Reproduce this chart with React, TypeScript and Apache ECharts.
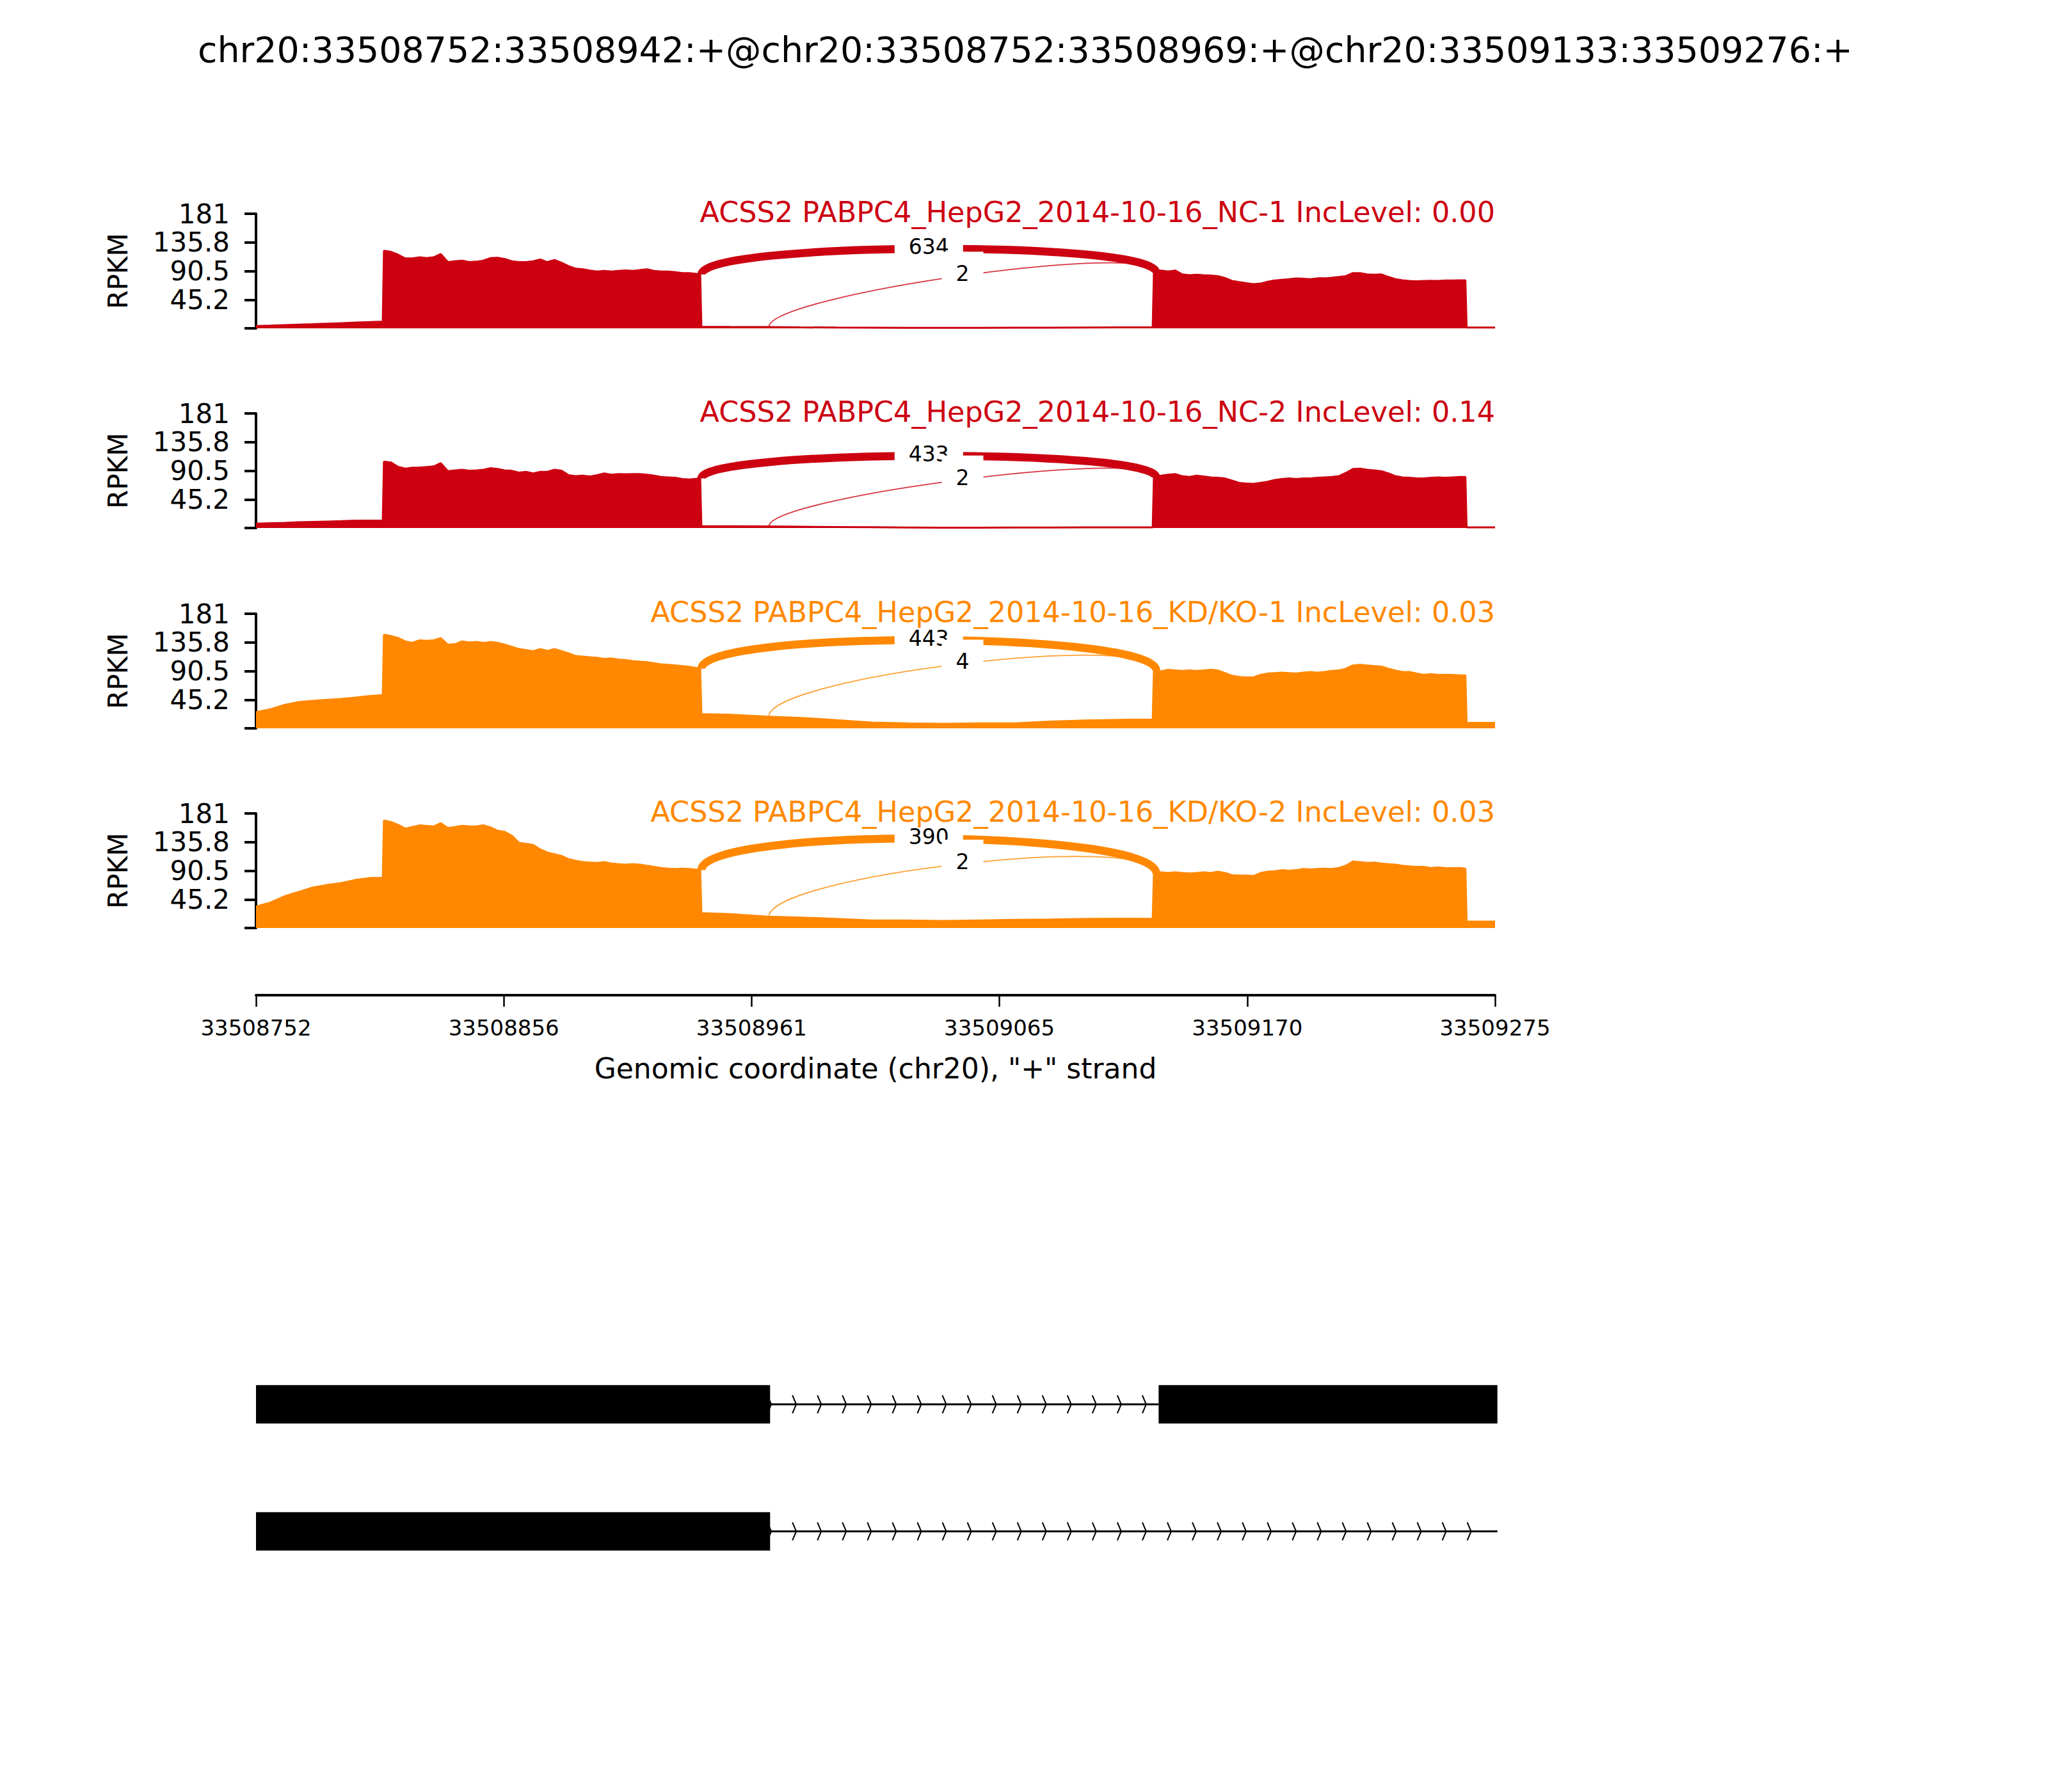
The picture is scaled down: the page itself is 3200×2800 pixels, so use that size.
import React, { useEffect, useRef } from "react";
import * as echarts from "echarts";

// ---------------- data ----------------
const REGION_START = 33508752; // genomic coordinate of position 0
const X_MAX = 523;
const MAIN_TITLE =
  "chr20:33508752:33508942:+@chr20:33508752:33508969:+@chr20:33509133:33509276:+";
const X_NAME = 'Genomic coordinate (chr20), "+" strand';

const xTickPos = [0, 104.6, 209.2, 313.8, 418.4, 523];
const xTickLabels = ["33508752", "33508856", "33508961", "33509065", "33509170", "33509275"];

const yTickValues = [0, 45.25, 90.5, 135.75, 181];
const yTickLabels = ["", "45.2", "90.5", "135.8", "181"];
const Y_MAX = 181;

// sample positions (bp from region start)
const samplePos = [
  0, 6, 12, 18, 24, 30, 36, 42, 48, 53.5,
  54, 57, 60, 63, 66, 69, 72, 75, 78, 81, 84, 87, 90, 93, 96, 99, 102, 105, 108, 111,
  114, 117, 120, 123, 126, 129, 132, 135, 138, 141, 144, 147, 150, 153, 156, 159, 162,
  165, 168, 171, 174, 177, 180, 183, 187.5,
  188, 200, 216, 230, 245, 260, 275, 290, 305, 320, 335, 350, 365, 378.5,
  379, 382, 385, 388, 391, 394, 397, 400, 403, 406, 409, 412, 415, 418, 421, 424, 427,
  430, 433, 436, 439, 442, 445, 448, 451, 454, 457, 460, 463, 466, 469, 472, 475, 478,
  481, 484, 487, 490, 493, 496, 499, 502, 505, 508, 510.5,
  511, 523,
];

// coverage (RPKM) per sample
const nc1Cov = [
  3.5, 4.2, 5.0, 5.8, 6.5, 7.3, 8.2, 9.0, 9.8, 10.5,
  122.5, 120.8, 116.3, 110.5, 110.5, 112.2, 111.1, 112.2, 117.4, 104.6, 106, 107, 104.6, 105.3, 107,
  111.1, 111.5, 109.4, 106, 104.6, 104.6, 106, 108.7, 104.6, 108, 103.5, 98.3, 94.2, 93.2, 91.4,
  89.7, 90.8, 89.7, 90.8, 91.4, 90.8, 92.1, 93.2, 90.8, 89.7, 89.7, 88.7, 87.3, 87.3, 85.2,
  2.5, 2.2, 2.0, 1.5, 1.2, 1.0, 0.8, 0.8, 0.8, 0.9, 1.0, 1.2, 1.4, 1.5,
  88, 91.4, 89.7, 91.4, 85.2, 83.9, 84.6, 83.9, 83.5, 82.5, 79.4, 74.9, 73.1, 71.4, 69.7, 70.7,
  73.5, 75.6, 76.6, 77.6, 79, 78.3, 77.6, 79, 79, 80, 81.1, 82.5, 87.3, 87.3, 85.2, 84.6, 85.2,
  81.1, 77.6, 75.9, 74.9, 74.2, 74.9, 75.2, 74.9, 75.6, 75.6, 75.9, 75.9,
  1.2, 1.2,
];
const nc2Cov = [
  6.8, 7.5, 8.2, 9, 9.6, 10.2, 10.8, 11.6, 11.6, 11.8,
  104.9, 103.5, 96.6, 93.9, 95.2, 95.6, 96.3, 97.3, 102.5, 89.7, 91.1, 92.1, 90.4, 91.1, 92.1,
  94.5, 93.2, 91.1, 90.4, 87.6, 88.7, 86.2, 88.7, 88.7, 92.1, 90.4, 83.5, 81.8, 82.8, 81.4,
  83.5, 86.2, 84.2, 85.2, 84.9, 85.2, 85.2, 84.2, 82.8, 80.7, 80, 79.3, 77.3, 76.6, 78.3,
  3, 2.8, 2.5, 2, 1.6, 1.2, 0.8, 0.5, 0.5, 0.7, 0.8, 0.9, 1.0, 1.0,
  80, 82.8, 84.2, 85.2, 81.8, 80.7, 82.8, 81.4, 80, 79.3, 78.3, 74.8, 71.4, 70.4, 69.7, 71.4,
  73.1, 75.9, 77.3, 78.3, 77.3, 78.3, 78.3, 79.3, 80, 80.7, 81.8, 87, 93.2, 93.9, 92.1, 91.1,
  89.7, 86.2, 81.8, 80, 79.3, 78.3, 78.3, 79.3, 80, 79.3, 80, 80.7, 80.7,
  1.0, 1.0,
];
const kd1Cov = [
  25.5, 30, 37, 41.5, 43.5, 45, 46.5, 48.5, 51, 52.5,
  147.8, 146, 142.6, 137.4, 135, 139.1, 138.4, 139.1, 142.6, 132.2, 132.9, 137.4, 135.7, 136.4,
  135, 136.4, 135, 132.2, 128.8, 125.3, 123.6, 121.8, 125.3, 122.5, 125.3, 121.8, 118.4, 114.2,
  113.2, 112.2, 111.5, 109.8, 110.4, 108.7, 108, 106.3, 105.3, 104.6, 102.8, 101.1, 100.4, 99.4,
  98.4, 97, 94.2,
  22.5, 21.5, 18.5, 16.5, 13, 9, 7.8, 7, 7.8, 7.8, 10.5, 12.5, 13.5, 14,
  91.4, 90.1, 92.5, 91.4, 90.8, 91.4, 90.8, 91.4, 92.5, 91.4, 87.3, 83.1, 81.1, 80.4, 80.4,
  84.5, 86.6, 87.3, 88, 87.3, 86.6, 88, 89, 88, 89, 90.8, 91.4, 94.2, 99.4, 100.4, 99.4, 98.4,
  97.7, 94.2, 91.4, 89, 89, 86.6, 84.5, 85.6, 84.5, 84.5, 84.5, 83.8, 83.8,
  8.5, 8.5,
];
const kd2Cov = [
  34, 40, 50, 57, 64, 68, 71, 76, 79, 79.5,
  169.9, 167.4, 163, 157.1, 159.5, 162.2, 161.2, 160.5, 165.7, 158.1, 159.5, 161.6, 160.5, 160.5,
  162.2, 158.8, 153.6, 151.9, 145.7, 134.6, 132.9, 131.2, 124.2, 119.1, 116.6, 113.9, 108.7,
  106.3, 104.2, 103.5, 102.8, 104.2, 101.8, 100.8, 100.1, 100.8, 100.1, 98.3, 96.6, 94.9, 93.8,
  93.2, 93.8, 93.2, 91.4,
  23.5, 22, 18, 16.5, 14.5, 12, 12, 11, 12, 13, 13.5, 14.5, 14.7, 14.5,
  86.2, 88, 86.9, 88, 86.9, 86.2, 86.9, 88, 86.9, 89, 86.9, 83.5, 82.8, 82.8, 82.1, 86.9, 89,
  89.7, 91.4, 90.4, 91.4, 93.2, 92.5, 93.2, 93.8, 93.2, 94.9, 98.3, 105.2, 104.2, 102.8, 103.5,
  101.8, 100.8, 100.1, 98.3, 97.3, 96.6, 96.6, 94.9, 95.9, 94.9, 94.5, 94.9, 93.8,
  10, 10,
];

// junction arcs: [start, end, startHeight, endHeight, arcHeight, readCount]
const nc1Arcs = [
  [188, 380, 85.2, 88, 52, 634],
  [216.5, 380, 2.0, 88, 51, 2],
];
const nc2Arcs = [
  [188, 380, 78.3, 80, 46.5, 433],
  [216.5, 380, 2.5, 80, 47, 2],
];
const kd1Arcs = [
  [188, 380, 94.2, 91.4, 62, 443],
  [216.5, 380, 18.5, 91.4, 63, 4],
];
const kd2Arcs = [
  [188, 380, 91.4, 86.2, 70, 390],
  [216.5, 380, 17.8, 86.2, 66, 2],
];

const sampleLabels = [
  "ACSS2 PABPC4_HepG2_2014-10-16_NC-1 IncLevel: 0.00",
  "ACSS2 PABPC4_HepG2_2014-10-16_NC-2 IncLevel: 0.14",
  "ACSS2 PABPC4_HepG2_2014-10-16_KD/KO-1 IncLevel: 0.03",
  "ACSS2 PABPC4_HepG2_2014-10-16_KD/KO-2 IncLevel: 0.03",
];

// gene model: [start, end, row]  (row 1 = upper transcript, row 0 = lower)
const exons = [
  [0, 217, 1],
  [381, 524, 1],
  [0, 217, 0],
];
const introns = [
  [217, 381, 1],
  [217, 524, 0],
];

// ---------------- styling / layout ----------------
const RED = "#CC0011";
const ORANGE = "#FF8800";
const FONT = "DejaVu Sans";
const GRID_LEFT = 400;
const GRID_WIDTH = 1936;
const PANEL_TOPS = [334, 646, 959, 1271];
const PANEL_H = 179;
const CHEVRON_STEP = 10.55;

const panels = [
  { label: sampleLabels[0], color: RED, cov: nc1Cov, arcs: nc1Arcs },
  { label: sampleLabels[1], color: RED, cov: nc2Cov, arcs: nc2Arcs },
  { label: sampleLabels[2], color: ORANGE, cov: kd1Cov, arcs: kd1Arcs },
  { label: sampleLabels[3], color: ORANGE, cov: kd2Cov, arcs: kd2Arcs },
];

function nearestLabel(v: number, vals: number[], labels: string[]) {
  let best = 0;
  for (let i = 1; i < vals.length; i++) {
    if (Math.abs(vals[i] - v) < Math.abs(vals[best] - v)) best = i;
  }
  return labels[best];
}

function buildOption() {
  const grid: any[] = [];
  const xAxis: any[] = [];
  const yAxis: any[] = [];
  const series: any[] = [];
  const graphic: any[] = [];

  graphic.push({
    type: "text",
    x: 1602,
    y: 78,
    z: 100,
    style: {
      text: MAIN_TITLE,
      fontSize: 55.4,
      fontFamily: FONT,
      fill: "#000",
      align: "center",
      verticalAlign: "middle",
    },
  });

  panels.forEach((p, i) => {
    grid.push({ left: GRID_LEFT, width: GRID_WIDTH, top: PANEL_TOPS[i], height: PANEL_H });
    xAxis.push({ gridIndex: i, type: "value", min: 0, max: X_MAX, show: false });
    yAxis.push({
      gridIndex: i,
      type: "value",
      min: 0,
      max: Y_MAX,
      splitLine: { show: false },
      axisLine: { show: true, lineStyle: { color: "#000", width: 4 } },
      axisTick: {
        show: true,
        length: 18,
        customValues: yTickValues,
        lineStyle: { color: "#000", width: 4 },
      },
      axisLabel: {
        customValues: yTickValues,
        formatter: (v: number) => nearestLabel(v, yTickValues, yTickLabels),
        fontSize: 42,
        fontFamily: FONT,
        color: "#000",
        margin: 41,
      },
      name: "RPKM",
      nameLocation: "middle",
      nameRotate: 90,
      nameGap: 195,
      nameTextStyle: { fontSize: 42, fontFamily: FONT, color: "#000" },
    });
    series.push({
      type: "line",
      xAxisIndex: i,
      yAxisIndex: i,
      data: samplePos.map((x, k) => [x, p.cov[k]]),
      showSymbol: false,
      symbol: "none",
      silent: true,
      lineStyle: { color: p.color, width: 3 },
      itemStyle: { color: p.color },
      areaStyle: { color: p.color, opacity: 1 },
      z: 2,
    });
    const arcs = p.arcs;
    series.push({
      type: "custom",
      xAxisIndex: i,
      yAxisIndex: i,
      clip: false,
      silent: true,
      z: 3,
      encode: { x: [0, 1], y: [2, 3] },
      data: arcs.map((a) => [a[0], a[1], a[2], a[3], a[4], a[5]]),
      renderItem: (params: any, api: any) => {
        const x1 = api.value(0);
        const x2 = api.value(1);
        const y1 = api.value(2);
        const y2 = api.value(3);
        const h = api.value(4);
        const count = api.value(5);
        const p0 = api.coord([x1, y1]);
        const p1 = api.coord([x1, y1 + h]);
        const p2 = api.coord([x2, y2 + h]);
        const p3 = api.coord([x2, y2]);
        const mx = (p0[0] + 3 * p1[0] + 3 * p2[0] + p3[0]) / 8;
        const my = (p0[1] + 3 * p1[1] + 3 * p2[1] + p3[1]) / 8;
        const thick = count > 50;
        return {
          type: "group",
          children: [
            {
              type: "bezierCurve",
              shape: {
                x1: p0[0],
                y1: p0[1],
                x2: p3[0],
                y2: p3[1],
                cpx1: p1[0],
                cpy1: p1[1],
                cpx2: p2[0],
                cpy2: p2[1],
              },
              style: {
                stroke: p.color,
                lineWidth: thick ? 12.5 : 1.8,
                fill: "none",
                opacity: thick ? 1 : 0.8,
              },
            },
            {
              type: "text",
              x: mx,
              y: my - 3,
              style: {
                text: String(count),
                fontSize: 33,
                fontFamily: FONT,
                fill: "#000",
                align: "center",
                verticalAlign: "middle",
                backgroundColor: "#fff",
                padding: [18, 22],
              },
            },
          ],
        };
      },
    });
    graphic.push({
      type: "text",
      x: GRID_LEFT + GRID_WIDTH,
      y: PANEL_TOPS[i] - 3,
      z: 100,
      style: {
        text: p.label,
        fontSize: 44.5,
        fontFamily: FONT,
        fill: p.color,
        align: "right",
        verticalAlign: "middle",
      },
    });
  });

  // genomic coordinate axis (grid 4)
  grid.push({ left: GRID_LEFT, width: GRID_WIDTH, top: 1455, height: 100 });
  xAxis.push({
    gridIndex: 4,
    type: "value",
    min: 0,
    max: X_MAX,
    position: "bottom",
    splitLine: { show: false },
    axisLine: { show: true, onZero: false, lineStyle: { color: "#000", width: 4 } },
    axisTick: {
      show: true,
      length: 18,
      customValues: xTickPos,
      lineStyle: { color: "#000", width: 2.5 },
    },
    axisLabel: {
      customValues: xTickPos,
      formatter: (v: number) => nearestLabel(v, xTickPos, xTickLabels),
      fontSize: 34,
      fontFamily: FONT,
      color: "#000",
      margin: 34,
    },
    name: X_NAME,
    nameLocation: "middle",
    nameGap: 92,
    nameTextStyle: { fontSize: 44, fontFamily: FONT, color: "#000" },
  });
  yAxis.push({ gridIndex: 4, type: "value", min: 0, max: 1, show: false });

  // gene model (grid 5)
  grid.push({ left: GRID_LEFT, width: GRID_WIDTH, top: 2095, height: 397 });
  xAxis.push({ gridIndex: 5, type: "value", min: 0, max: X_MAX, show: false });
  yAxis.push({ gridIndex: 5, type: "value", min: -0.5, max: 1.5, show: false });

  series.push({
    type: "custom",
    xAxisIndex: 5,
    yAxisIndex: 5,
    clip: false,
    silent: true,
    z: 3,
    encode: { x: [0, 1], y: 2 },
    data: exons,
    renderItem: (params: any, api: any) => {
      const a = api.coord([api.value(0), api.value(2)]);
      const b = api.coord([api.value(1), api.value(2)]);
      return {
        type: "rect",
        shape: { x: a[0], y: a[1] - 30, width: b[0] - a[0], height: 60 },
        style: { fill: "#000" },
      };
    },
  });
  series.push({
    type: "custom",
    xAxisIndex: 5,
    yAxisIndex: 5,
    clip: false,
    silent: true,
    z: 2,
    encode: { x: [0, 1], y: 2 },
    data: introns,
    renderItem: (params: any, api: any) => {
      const s = api.value(0);
      const e = api.value(1);
      const row = api.value(2);
      const a = api.coord([s, row]);
      const b = api.coord([e, row]);
      const children: any[] = [
        {
          type: "line",
          shape: { x1: a[0], y1: a[1], x2: b[0], y2: b[1] },
          style: { stroke: "#000", lineWidth: 3 },
        },
      ];
      for (let g = s + 0.5; g < e - 5; g += CHEVRON_STEP) {
        const c = api.coord([g, row]);
        children.push({
          type: "polyline",
          shape: {
            points: [
              [c[0] - 6, c[1] - 14],
              [c[0], c[1]],
              [c[0] - 6, c[1] + 14],
            ],
          },
          style: { stroke: "#000", lineWidth: 2, fill: "none" },
        });
      }
      return { type: "group", children };
    },
  });

  return {
    animation: false,
    backgroundColor: "#fff",
    textStyle: { fontFamily: FONT },
    grid,
    xAxis,
    yAxis,
    series,
    graphic,
  };
}

export default function App() {
  const ref = useRef<HTMLDivElement>(null);
  useEffect(() => {
    document.body.style.margin = "0";
    if (!ref.current) return;
    const chart = echarts.init(ref.current, undefined, { renderer: "svg" });
    chart.setOption(buildOption() as any);
    return () => chart.dispose();
  }, []);
  return <div ref={ref} style={{ width: 3200, height: 2800, background: "#fff" }} />;
}
